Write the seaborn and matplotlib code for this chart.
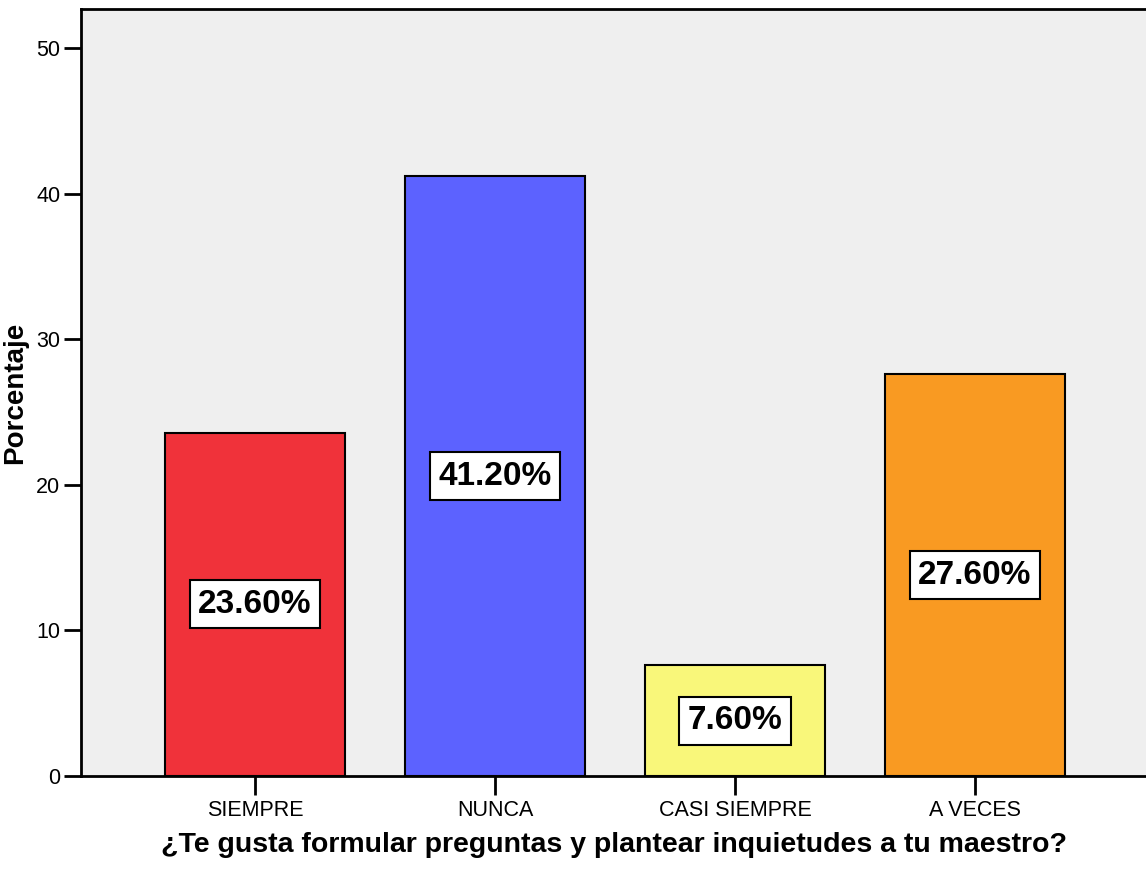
import pandas as pd
import matplotlib.pyplot as plt
import seaborn as sns

# Data
categories = ['SIEMPRE', 'NUNCA', 'CASI SIEMPRE', 'A VECES']
percentages = [23.6, 41.2, 7.6, 27.6]
bar_colors = ['#F0323A', '#5C62FF', '#F9F77A', '#F99A22']

df = pd.DataFrame({'respuesta': categories, 'porcentaje': percentages})

sns.set_theme(style='white')
plt.rcParams['font.family'] = ['Liberation Sans', 'DejaVu Sans']

fig = plt.figure(figsize=(11.46, 8.69), dpi=100)
ax = fig.add_axes([0.0707, 0.107, 0.9293, 0.8826])
ax.set_facecolor('#EFEFEF')

sns.barplot(data=df, x='respuesta', y='porcentaje', hue='respuesta',
            palette=bar_colors, legend=False, width=0.75,
            edgecolor='black', linewidth=1.5, saturation=1, ax=ax)

# Value labels inside white boxes
for i, v in enumerate(percentages):
    ax.text(i, v / 2, f'{v:.2f}%', ha='center', va='center',
            fontsize=24, fontweight='bold', color='black',
            bbox=dict(boxstyle='square,pad=0.25', facecolor='white',
                      edgecolor='black', linewidth=1.5))

ax.set_ylim(0, 52.7)
ax.set_xlim(-0.725, 3.7125)
ax.set_yticks([0, 10, 20, 30, 40, 50])

ax.set_xlabel('¿Te gusta formular preguntas y plantear inquietudes a tu maestro?',
              fontsize=20.5, fontweight='bold', color='black', labelpad=8)
ax.set_ylabel('Porcentaje', fontsize=20, fontweight='bold', color='black',
              labelpad=6)

ax.tick_params(axis='both', direction='out', length=12, width=2,
               labelsize=15.5, colors='black', pad=3, left=True, bottom=True)
ax.tick_params(axis='x', length=14)

for side in ['left', 'bottom', 'top']:
    ax.spines[side].set_visible(True)
    ax.spines[side].set_color('black')
    ax.spines[side].set_linewidth(2)
ax.spines['right'].set_visible(False)

fig.savefig('out.png', dpi=100, facecolor='white')
